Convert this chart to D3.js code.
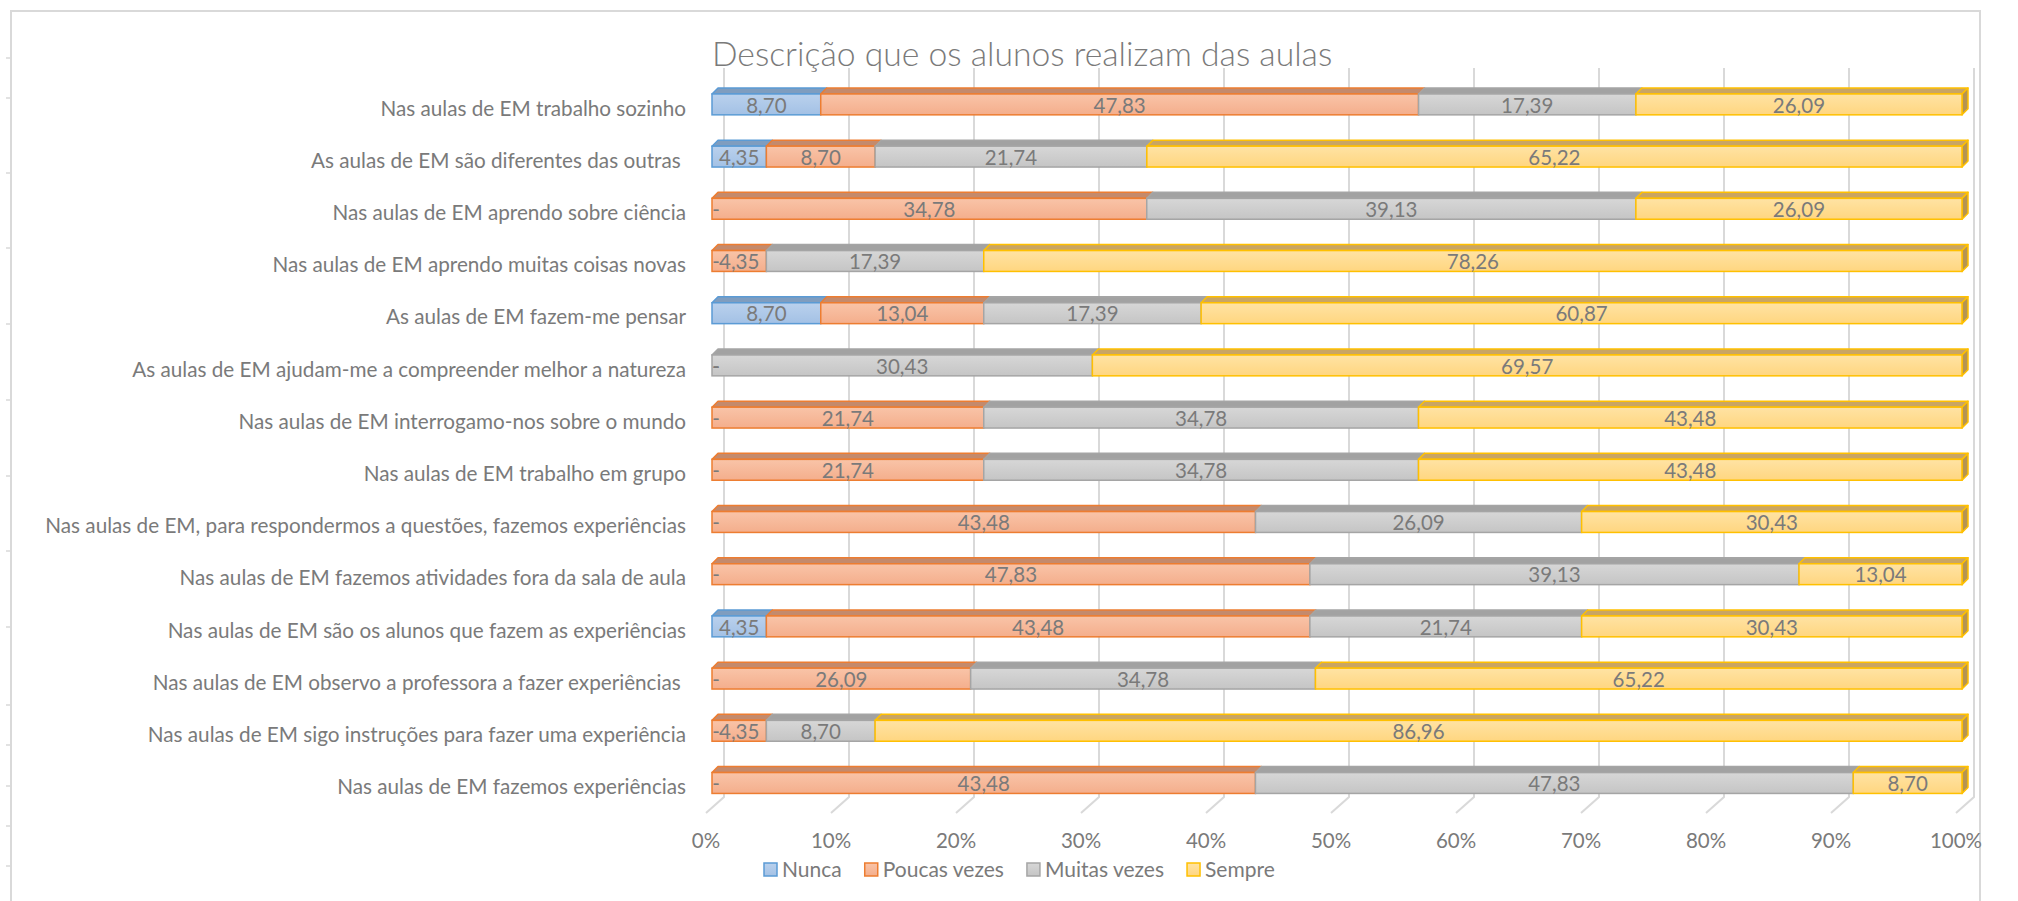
<!DOCTYPE html>
<html>
<head>
<meta charset="utf-8">
<script src="https://cdn.jsdelivr.net/npm/d3@7"></script>
<style>
  html, body { margin: 0; padding: 0; background: #ffffff; }
  svg { display: block; }
  text { font-family: Lato, "Open Sans", sans-serif; fill: #7a7a7a; }
</style>
</head>
<body>
<svg id="chart" width="2018" height="901"></svg>
<script>
// Statements, top to bottom
const categories = [
  "Nas aulas de EM trabalho sozinho",
  "As aulas de EM são diferentes das outras ",
  "Nas aulas de EM aprendo sobre ciência",
  "Nas aulas de EM aprendo muitas coisas novas",
  "As aulas de EM fazem-me pensar",
  "As aulas de EM ajudam-me a compreender melhor a natureza",
  "Nas aulas de EM interrogamo-nos sobre o mundo",
  "Nas aulas de EM trabalho em grupo",
  "Nas aulas de EM, para respondermos a questões, fazemos experiências",
  "Nas aulas de EM fazemos atividades fora da sala de aula",
  "Nas aulas de EM são os alunos que fazem as experiências",
  "Nas aulas de EM observo a professora a fazer experiências ",
  "Nas aulas de EM sigo instruções para fazer uma experiência",
  "Nas aulas de EM fazemos experiências"
];

// Percentages per answer
const nunca  = [8.70, 4.35, 0, 0, 8.70, 0, 0, 0, 0, 0, 4.35, 0, 0, 0];
const poucas = [47.83, 8.70, 34.78, 4.35, 13.04, 0, 21.74, 21.74, 43.48, 47.83, 43.48, 26.09, 4.35, 43.48];
const muitas = [17.39, 21.74, 39.13, 17.39, 17.39, 30.43, 34.78, 34.78, 26.09, 39.13, 21.74, 34.78, 8.70, 47.83];
const sempre = [26.09, 65.22, 26.09, 78.26, 60.87, 69.57, 43.48, 43.48, 30.43, 13.04, 30.43, 65.22, 86.96, 8.70];

const seriesNames = ["Nunca", "Poucas vezes", "Muitas vezes", "Sempre"];
const tickValues = [0, 0.1, 0.2, 0.3, 0.4, 0.5, 0.6, 0.7, 0.8, 0.9, 1];
const tickLabels = ["0%", "10%", "20%", "30%", "40%", "50%", "60%", "70%", "80%", "90%", "100%"];
const titleText = "Descrição que os alunos realizam das aulas";

// Face colours for the 3D boxes
const palette = [
  { stroke: "#5b9bd5", g0: "#bad1ed", g1: "#a3c1e5", top: "#7f9dbf", side: "#6f8db0" },
  { stroke: "#ed7d31", g0: "#f9c4a8", g1: "#f4ae8c", top: "#c48a6c", side: "#b07458" },
  { stroke: "#a5a5a5", g0: "#d7d7d7", g1: "#c5c5c5", top: "#a2a2a2", side: "#8f8f8f" },
  { stroke: "#ffc000", g0: "#ffe3a4", g1: "#ffd680", top: "#c9a563", side: "#b59452" }
];

const rows = categories.map((c, i) => ({
  cat: c, "Nunca": nunca[i], "Poucas vezes": poucas[i], "Muitas vezes": muitas[i], "Sempre": sempre[i]
}));

const svg = d3.select("#chart");
const W = 2018, H = 901;

// chart frame
svg.append("rect").attr("x", 11).attr("y", 11).attr("width", 1969).attr("height", H)
  .attr("fill", "#fff").attr("stroke", "#d9d9d9").attr("stroke-width", 2);
const frameTicks = [58, 98, 173, 248, 324, 400, 476, 551, 627, 705, 745, 786, 826, 866];
svg.append("g").selectAll("line").data(frameTicks).join("line")
  .attr("x1", 6).attr("x2", 11).attr("y1", d => d).attr("y2", d => d)
  .attr("stroke", "#d9d9d9").attr("stroke-width", 1.5);

// gradients
const defs = svg.append("defs");
palette.forEach((p, k) => {
  const g = defs.append("linearGradient").attr("id", "grad" + k)
    .attr("x1", 0).attr("y1", 0).attr("x2", 0).attr("y2", 1);
  g.append("stop").attr("offset", "0%").attr("stop-color", p.g0);
  g.append("stop").attr("offset", "100%").attr("stop-color", p.g1);
});

// scales
const x = d3.scaleLinear().domain([0, 1]).range([712, 1962]);
const y = d3.scaleBand().domain(categories).range([78.3, 78.3 + 14 * 52.2])
  .paddingInner(0.6).paddingOuter(0.3);
const depth = { dx: 6, dy: 6 };
const wall = { top: 68, floorBack: 797, floorFront: 813, back: 12, front: -6 };

// back wall / floor gridlines
svg.append("g").selectAll("path").data(tickValues).join("path")
  .attr("d", t => `M${x(t) + wall.back},${wall.top}V${wall.floorBack}L${x(t) + wall.front},${wall.floorFront}`)
  .attr("fill", "none").attr("stroke", "#d9d9d9").attr("stroke-width", 2);

// tick labels
svg.append("g").selectAll("text").data(tickValues).join("text")
  .attr("x", t => x(t) + wall.front).attr("y", 848)
  .attr("text-anchor", "middle").attr("font-size", 20.5)
  .text((t, i) => tickLabels[i]);

// 100% stacked layout
const stacked = d3.stack().keys(seriesNames).offset(d3.stackOffsetExpand)(rows);

const fmt = v => v === 0 ? "-" : d3.format(".2f")(v).replace(".", ",");

const barG = svg.append("g");
categories.forEach((cat, i) => {
  const y0 = y(cat), bh = y.bandwidth();
  const g = barG.append("g");
  let lastK = -1;
  stacked.forEach((s, k) => { if (s[i][1] - s[i][0] > 0) lastK = k; });
  stacked.forEach((s, k) => {
    const a = x(s[i][0]), b = x(s[i][1]);
    if (b - a <= 0) return;
    const p = palette[k];
    // top face
    g.append("path")
      .attr("d", `M${a},${y0}L${a + depth.dx},${y0 - depth.dy}L${b + depth.dx},${y0 - depth.dy}L${b},${y0}Z`)
      .attr("fill", p.top).attr("stroke", p.stroke).attr("stroke-width", 1.5).attr("stroke-linejoin", "round");
    // side face of the rightmost segment
    if (k === lastK) {
      g.append("path")
        .attr("d", `M${b},${y0}L${b + depth.dx},${y0 - depth.dy}L${b + depth.dx},${y0 + bh - depth.dy}L${b},${y0 + bh}Z`)
        .attr("fill", p.side).attr("stroke", p.stroke).attr("stroke-width", 1.5).attr("stroke-linejoin", "round");
    }
    // front face
    g.append("rect").attr("x", a).attr("y", y0).attr("width", b - a).attr("height", bh)
      .attr("fill", `url(#grad${k})`).attr("stroke", p.stroke).attr("stroke-width", 1.5);
  });
});

// value labels
const labelG = svg.append("g");
categories.forEach((cat, i) => {
  const cy = y(cat) + y.bandwidth() / 2 + 1;
  stacked.forEach((s, k) => {
    const v = rows[i][seriesNames[k]];
    const mid = x((s[i][0] + s[i][1]) / 2);
    labelG.append("text")
      .attr("x", v === 0 ? mid + 4 : mid).attr("y", cy).attr("dy", "0.35em")
      .attr("text-anchor", "middle").attr("font-size", 20.5)
      .text(fmt(v));
  });
});

// category labels
svg.append("g").selectAll("text").data(categories).join("text")
  .attr("x", 686).attr("y", d => y(d) + y.bandwidth() / 2 + 4).attr("dy", "0.35em")
  .attr("text-anchor", "end").attr("font-size", 20.7)
  .style("white-space", "pre")
  .text(d => d);

// title
svg.append("text").attr("x", 712).attr("y", 66)
  .attr("font-size", 33.7).attr("font-weight", 300).attr("fill", "#737373")
  .text(titleText);

// legend
const leg = svg.append("g");
let lx = 764;
seriesNames.forEach((name, k) => {
  const p = palette[k];
  leg.append("rect").attr("x", lx).attr("y", 863).attr("width", 13).attr("height", 13)
    .attr("fill", `url(#grad${k})`).attr("stroke", p.stroke).attr("stroke-width", 1.5);
  const t = leg.append("text").attr("x", lx + 18).attr("y", 877)
    .attr("font-size", 21).text(name);
  lx += 18 + t.node().getComputedTextLength() + 23;
});
</script>
</body>
</html>
